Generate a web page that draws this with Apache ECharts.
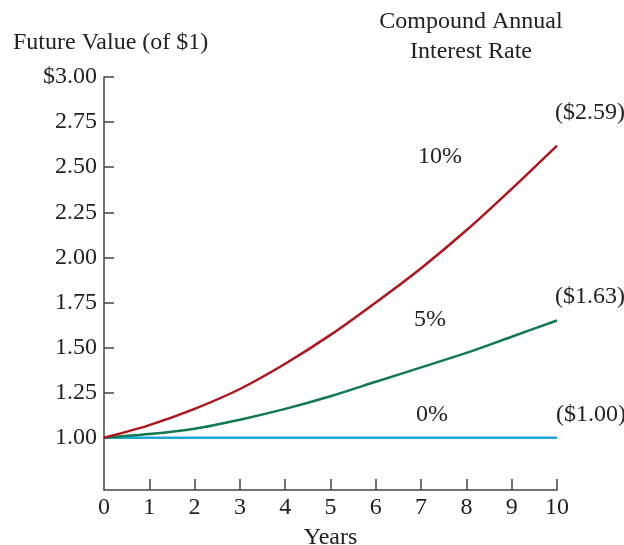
<!DOCTYPE html>
<html>
<head>
<meta charset="utf-8">
<script src="https://cdn.jsdelivr.net/npm/echarts@6/dist/echarts.min.js"></script>
<style>html,body{margin:0;padding:0;background:#fff}#c{width:624px;height:545px}</style>
</head>
<body>
<div id="c"></div>
<script>
const years = [0, 1, 2, 3, 4, 5, 6, 7, 8, 9, 10];
const rate10 = [1.00, 1.07, 1.16, 1.27, 1.41, 1.57, 1.75, 1.94, 2.15, 2.38, 2.62];
const rate5 = [1.00, 1.02, 1.05, 1.10, 1.16, 1.23, 1.31, 1.39, 1.47, 1.56, 1.65];
const rate0 = [1.00, 1.00, 1.00, 1.00, 1.00, 1.00, 1.00, 1.00, 1.00, 1.00, 1.00];
const yTicks = [1.00, 1.25, 1.50, 1.75, 2.00, 2.25, 2.50, 2.75, 3.00];
const xTicks = [1, 2, 3, 4, 5, 6, 7, 8, 9, 10];
const seriesNames = ['10%', '5%', '0%'];
const endLabels = ['($2.59)', '($1.63)', '($1.00)'];

const FONT = '"Liberation Serif", "DejaVu Serif", serif';
const FS = 24;
const TXT = '#222';
const colors = ['#b0141d', '#0f7a4e', '#1ea6de'];

function pairs(arr) { return years.map((y, i) => [y, arr[i]]); }

const chart = echarts.init(document.getElementById('c'), null, {renderer: 'canvas'});
const t = (text, x, y, align) => ({type: 'text', x: x, y: y,
  style: {text: text, font: FS + 'px ' + FONT, fill: TXT, align: align || 'center', verticalAlign: 'middle'}});
chart.setOption({
  animation: false,
  backgroundColor: '#fff',
  grid: {left: 104, right: 67, top: 77, bottom: 55, containLabel: false, outerBoundsMode: 'none'},
  xAxis: {
    type: 'value', min: 0, max: 10, interval: 1,
    name: 'Years', nameLocation: 'middle', nameGap: 36,
    nameTextStyle: {fontFamily: FONT, fontSize: FS, color: TXT},
    axisLine: {show: true, lineStyle: {color: '#444', width: 1.5}},
    axisTick: {show: true, inside: true, length: 11, lineStyle: {color: '#444', width: 1.5},
      customValues: xTicks},
    axisLabel: {fontFamily: FONT, fontSize: FS, color: TXT, margin: 6},
    splitLine: {show: false}
  },
  yAxis: {
    type: 'value', min: 0.71, max: 3.0,
    axisLine: {show: true, lineStyle: {color: '#444', width: 1.5}},
    axisTick: {show: true, inside: true, length: 10, lineStyle: {color: '#444', width: 1.5},
      customValues: yTicks},
    axisLabel: {fontFamily: FONT, fontSize: FS, color: TXT, margin: 7,
      customValues: yTicks,
      formatter: v => (Math.abs(v - 3) < 1e-6 ? '$' : '') + v.toFixed(2)},
    splitLine: {show: false}
  },
  series: [rate10, rate5, rate0].map((d, i) => ({
    name: seriesNames[i], type: 'line', data: pairs(d), smooth: 0.3,
    showSymbol: false, symbol: 'none',
    lineStyle: {color: colors[i], width: 2.5},
    z: 3 - i
  })),
  graphic: [
    t('Future Value (of $1)', 13, 43, 'left'),
    t('Compound Annual', 471, 22),
    t('Interest Rate', 471, 52),
    t(seriesNames[0], 440, 157),
    t(seriesNames[1], 430, 320),
    t(seriesNames[2], 432, 415),
    t(endLabels[0], 590, 113),
    t(endLabels[1], 590, 297),
    t(endLabels[2], 591, 415)
  ]
});
</script>
</body>
</html>
